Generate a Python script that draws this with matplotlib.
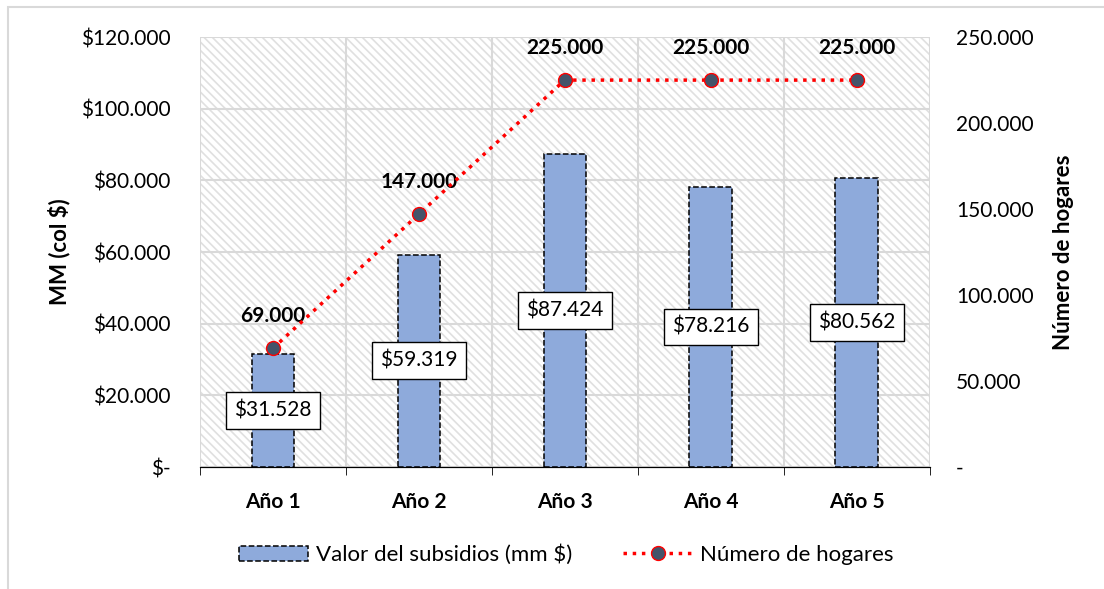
import matplotlib.pyplot as plt
import matplotlib as mpl
from matplotlib.ticker import FuncFormatter
from matplotlib.patches import Rectangle

plt.rcParams['font.family'] = ['Lato', 'DejaVu Sans']
mpl.rcParams['hatch.color'] = '#e0e0e0'
mpl.rcParams['hatch.linewidth'] = 1.2

years = ["Año 1", "Año 2", "Año 3", "Año 4", "Año 5"]
subsidio = [31528, 59319, 87424, 78216, 80562]
hogares = [69000, 147000, 225000, 225000, 225000]


def miles(v):
    return f"{v:,.0f}".replace(",", ".")


fig = plt.figure(figsize=(11.04, 5.89), dpi=100)
# borde del área del gráfico (recortado a la derecha y abajo)
fig.add_artist(Rectangle((8 / 1104, -0.05), 1.1, 1.05 - 7 / 589 + 0.0,
                         transform=fig.transFigure, fill=False,
                         edgecolor='#d9d9d9', linewidth=1.5))

ax = fig.add_axes([0.181, 0.207, 0.661, 0.730])
ax2 = ax.twinx()

# fondo rayado
ax.patch.set_facecolor('white')
ax.patch.set_hatch('\\\\\\\\')
ax.patch.set_edgecolor('#e0e0e0')

x = list(range(len(years)))
bars = ax.bar(x, subsidio, width=0.29, color='#8eaadb', edgecolor='black',
              linestyle='--', linewidth=1.1, zorder=3, label='Valor del subsidios (mm $)')
for xi, v in zip(x, subsidio):
    ax.text(xi, v / 2, "$" + miles(v), ha='center', va='center', fontsize=15, zorder=5,
            bbox=dict(boxstyle='square,pad=0.4', facecolor='white', edgecolor='black', linewidth=1))

ax.set_xlim(-0.5, 4.5)
ax.set_ylim(0, 120000)
ax.set_yticks(range(0, 120001, 20000))
ax.yaxis.set_major_formatter(FuncFormatter(lambda v, p: "$-" if v == 0 else "$" + miles(v)))
ax.set_xticks(x)
ax.set_xticklabels(years, fontsize=15, fontweight='bold')
ax.set_xticks([i - 0.5 for i in range(6)], minor=True)
ax.tick_params(axis='x', which='major', length=0, pad=18)
ax.tick_params(axis='x', which='minor', length=6, direction='out', color='black')
ax.tick_params(axis='y', length=0, labelsize=15, pad=21)
ax.grid(True, axis='y', color='#d9d9d9', linewidth=1.5, zorder=1)
ax.grid(True, axis='x', which='minor', color='#d9d9d9', linewidth=1.5, zorder=1)
ax.set_axisbelow(True)
ax.set_ylabel("MM (col $)", fontsize=16, fontweight='bold', labelpad=8)

ax2.plot(x, hogares, color='red', linestyle=':', linewidth=2.5, marker='o', markersize=10,
         markerfacecolor='#44546a', markeredgecolor='red', zorder=4, label='Número de hogares')
for xi, v in zip(x, hogares):
    ax2.annotate(miles(v), (xi, v), xytext=(0, 16), textcoords='offset points',
                 ha='center', va='bottom', fontsize=15, fontweight='bold')
ax2.set_ylim(0, 250000)
ax2.set_yticks(range(0, 250001, 50000))
ax2.yaxis.set_major_formatter(FuncFormatter(lambda v, p: "-" if v == 0 else miles(v)))
ax2.tick_params(axis='y', length=0, labelsize=15, pad=19)
ax2.set_ylabel("Número de hogares", fontsize=16, fontweight='bold', labelpad=14)

for a in (ax, ax2):
    for s in ('top', 'left', 'right'):
        a.spines[s].set_visible(False)
    a.spines['bottom'].set_color('black')
ax.set_zorder(ax2.get_zorder() - 1)
ax2.patch.set_visible(False)
ax.patch.set_visible(True)

h1, l1 = ax.get_legend_handles_labels()
h2, l2 = ax2.get_legend_handles_labels()
fig.legend(h1 + h2, l1 + l2, loc='center', bbox_to_anchor=(0.513, 0.058), ncol=2,
           frameon=False, fontsize=16, columnspacing=2.3, handlelength=3.1, handletextpad=0.35)

fig.savefig("out.png", dpi=100)
